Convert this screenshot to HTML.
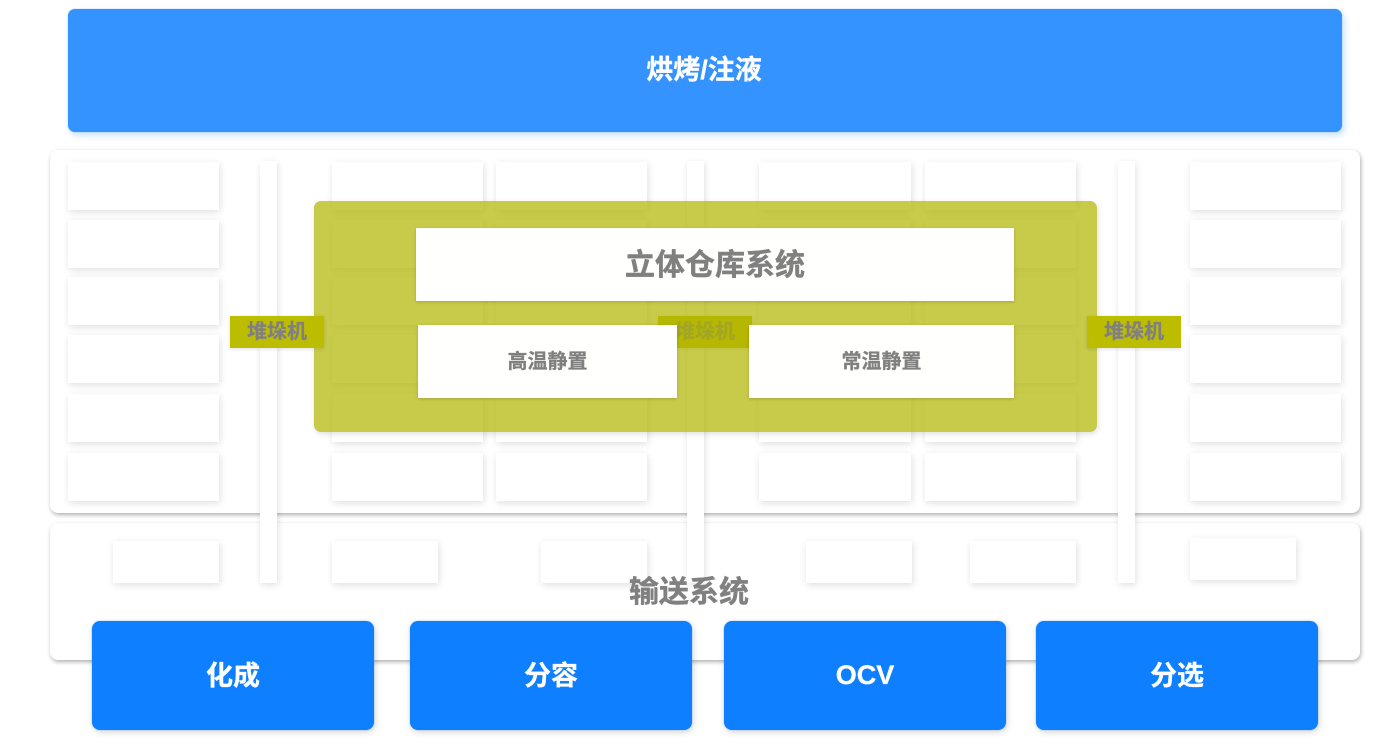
<!DOCTYPE html>
<html lang="zh">
<head>
<meta charset="utf-8">
<style>
html,body{margin:0;padding:0;background:#fff}
body{width:1389px;height:745px;position:relative;overflow:hidden;font-family:"Liberation Sans","Noto Sans CJK SC",sans-serif;font-weight:700}
div{position:absolute;box-sizing:border-box;display:flex;align-items:center;justify-content:center;white-space:nowrap}
.panel{background:#fff;border-radius:8px;box-shadow:1px 2px 4px rgba(0,0,0,.3),0 0 2px rgba(0,0,0,.03)}
.c{background:#fff;box-shadow:1px 2px 7px rgba(0,0,0,.13)}
.blue{background:#0d7fff;border-radius:8px;color:#fff;font-size:27px;padding-bottom:4px;-webkit-text-stroke:.3px #fff;box-shadow:1px 2px 7px rgba(0,0,0,.18),0 0 1px rgba(13,127,255,.6)}
.st{background:#bdbd00;color:#808080;font-size:20px;width:94px;height:32px;top:316px;padding-bottom:6px;-webkit-text-stroke:.3px #808080;box-shadow:0 1px 4px rgba(0,0,0,.12)}
.w{background:#fffffd;color:#808080;box-shadow:0 1px 3px rgba(0,0,0,.18)}
</style>
</head>
<body>
<div style="left:68px;top:9px;width:1274px;height:123px;background:#3493ff;border-radius:7px;color:#fff;font-size:27px;padding-bottom:6px;padding-right:2px;-webkit-text-stroke:.3px #fff;box-shadow:2px 3px 7px rgba(52,147,255,.3),0 0 1px rgba(52,147,255,.6)">烘烤/注液</div>

<div class="panel" style="left:50px;top:150px;width:1310px;height:363px"></div>
<div class="panel" style="left:50px;top:523px;width:1310px;height:137px"></div>

<div class="c" style="left:68px;top:162px;width:151px;height:48px"></div>
<div class="c" style="left:68px;top:220px;width:151px;height:48px"></div>
<div class="c" style="left:68px;top:277px;width:151px;height:48px"></div>
<div class="c" style="left:68px;top:335px;width:151px;height:48px"></div>
<div class="c" style="left:68px;top:394px;width:151px;height:48px"></div>
<div class="c" style="left:68px;top:453px;width:151px;height:48px"></div>

<div class="c" style="left:332px;top:162px;width:151px;height:48px"></div>
<div class="c" style="left:332px;top:220px;width:151px;height:48px"></div>
<div class="c" style="left:332px;top:277px;width:151px;height:48px"></div>
<div class="c" style="left:332px;top:335px;width:151px;height:48px"></div>
<div class="c" style="left:332px;top:394px;width:151px;height:48px"></div>
<div class="c" style="left:332px;top:453px;width:151px;height:48px"></div>

<div class="c" style="left:496px;top:162px;width:151px;height:48px"></div>
<div class="c" style="left:496px;top:220px;width:151px;height:48px"></div>
<div class="c" style="left:496px;top:277px;width:151px;height:48px"></div>
<div class="c" style="left:496px;top:335px;width:151px;height:48px"></div>
<div class="c" style="left:496px;top:394px;width:151px;height:48px"></div>
<div class="c" style="left:496px;top:453px;width:151px;height:48px"></div>

<div class="c" style="left:759px;top:162px;width:152px;height:48px"></div>
<div class="c" style="left:759px;top:220px;width:152px;height:48px"></div>
<div class="c" style="left:759px;top:277px;width:152px;height:48px"></div>
<div class="c" style="left:759px;top:335px;width:152px;height:48px"></div>
<div class="c" style="left:759px;top:394px;width:152px;height:48px"></div>
<div class="c" style="left:759px;top:453px;width:152px;height:48px"></div>

<div class="c" style="left:925px;top:162px;width:151px;height:48px"></div>
<div class="c" style="left:925px;top:220px;width:151px;height:48px"></div>
<div class="c" style="left:925px;top:277px;width:151px;height:48px"></div>
<div class="c" style="left:925px;top:335px;width:151px;height:48px"></div>
<div class="c" style="left:925px;top:394px;width:151px;height:48px"></div>
<div class="c" style="left:925px;top:453px;width:151px;height:48px"></div>

<div class="c" style="left:1190px;top:162px;width:151px;height:48px"></div>
<div class="c" style="left:1190px;top:220px;width:151px;height:48px"></div>
<div class="c" style="left:1190px;top:277px;width:151px;height:48px"></div>
<div class="c" style="left:1190px;top:335px;width:151px;height:48px"></div>
<div class="c" style="left:1190px;top:394px;width:151px;height:48px"></div>
<div class="c" style="left:1190px;top:453px;width:151px;height:48px"></div>

<div class="c" style="left:113px;top:541px;width:106px;height:42px"></div>
<div class="c" style="left:332px;top:541px;width:106px;height:42px"></div>
<div class="c" style="left:541px;top:541px;width:106px;height:42px"></div>
<div class="c" style="left:806px;top:541px;width:106px;height:42px"></div>
<div class="c" style="left:970px;top:541px;width:106px;height:42px"></div>
<div class="c" style="left:1190px;top:538px;width:106px;height:42px"></div>

<div class="c" style="left:260px;top:161px;width:17px;height:422px"></div>
<div class="c" style="left:687px;top:161px;width:17px;height:422px"></div>
<div class="c" style="left:1118px;top:161px;width:17px;height:422px"></div>

<div class="st" style="left:658px">堆垛机</div>

<div style="left:314px;top:201px;width:783px;height:231px;background:rgba(177,180,0,.71);border-radius:7px;box-shadow:1px 2px 6px rgba(0,0,0,.12)"></div>

<div class="st" style="left:230px">堆垛机</div>
<div class="st" style="left:1087px">堆垛机</div>

<div class="w" style="left:416px;top:228px;width:598px;height:73px;font-size:30px;padding-bottom:6px;-webkit-text-stroke:.4px #808080">立体仓库系统</div>
<div class="w" style="left:418px;top:325px;width:259px;height:73px;font-size:20px;padding-bottom:4px;-webkit-text-stroke:.3px #808080">高温静置</div>
<div class="w" style="left:749px;top:325px;width:265px;height:73px;font-size:20px;padding-bottom:4px;-webkit-text-stroke:.3px #808080">常温静置</div>

<div style="left:589px;top:568px;width:200px;height:42px;color:#808080;font-size:30px;-webkit-text-stroke:.4px #808080">输送系统</div>

<div class="blue" style="left:92px;top:621px;width:282px;height:109px">化成</div>
<div class="blue" style="left:410px;top:621px;width:282px;height:109px">分容</div>
<div class="blue" style="left:724px;top:621px;width:282px;height:109px;padding-bottom:0">OCV</div>
<div class="blue" style="left:1036px;top:621px;width:282px;height:109px">分选</div>
</body>
</html>
